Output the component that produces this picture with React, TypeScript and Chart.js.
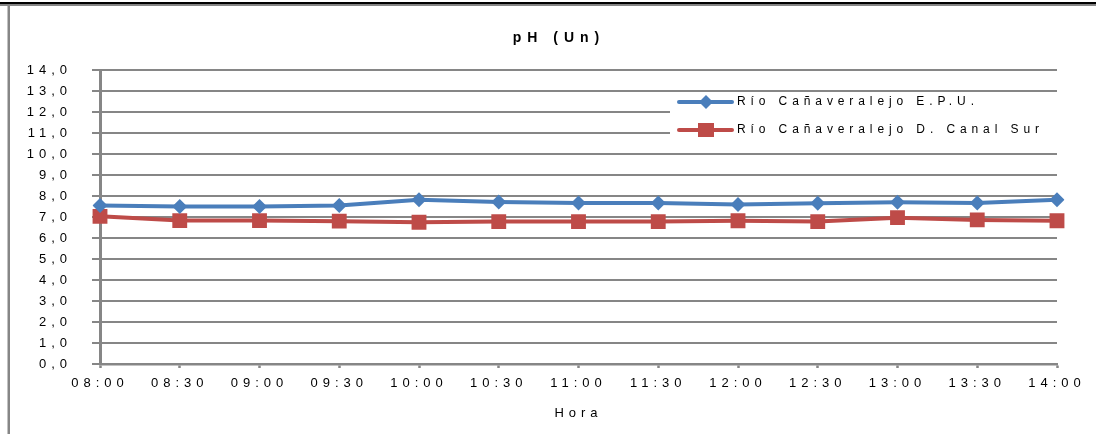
import { useEffect, useRef } from "react";
import { Chart, registerables } from "chart.js";

Chart.register(...registerables);

// Sampling times (x axis)
const hours = [
  "08:00", "08:30", "09:00", "09:30", "10:00", "10:30", "11:00",
  "11:30", "12:00", "12:30", "13:00", "13:30", "14:00",
];

// pH readings per station
const epuValues = [7.55, 7.5, 7.5, 7.55, 7.82, 7.72, 7.67, 7.67, 7.6, 7.65, 7.7, 7.67, 7.82];
const canalSurValues = [7.03, 6.83, 6.83, 6.8, 6.75, 6.78, 6.78, 6.78, 6.82, 6.78, 6.97, 6.86, 6.82];

const seriesNames = ["Río Cañaveralejo E.P.U.", "Río Cañaveralejo D. Canal Sur"];
const chartTitle = "pH (Un)";
const xAxisTitle = "Hora";

const FONT = '"Liberation Sans", Arial, sans-serif';
const BLUE = "#4a7ebb";
const RED = "#be4b48";
const GRID = "#868686";

type Ctx = CanvasRenderingContext2D & { letterSpacing?: string };

// Outer frame, title, and the in-plot legend box
const decorations = {
  id: "decorations",
  beforeDraw(chart: Chart) {
    const ctx = chart.ctx as Ctx;
    ctx.save();
    ctx.fillStyle = "#000";
    ctx.fillRect(0, 2, chart.width, 2.5);
    ctx.fillStyle = GRID;
    ctx.fillRect(0, 4.5, chart.width, 1.5);
    ctx.fillRect(7.5, 6, 2.5, chart.height - 6);

    ctx.letterSpacing = "6px";
    ctx.font = `bold 14px ${FONT}`;
    ctx.fillStyle = "#000";
    ctx.textAlign = "left";
    ctx.textBaseline = "middle";
    const w = ctx.measureText(chartTitle).width - 6;
    ctx.fillText(chartTitle, 556 - w / 2, 38);
    ctx.restore();
    (chart.ctx as Ctx).letterSpacing = "5px";
  },
  beforeDatasetsDraw(chart: Chart) {
    const ctx = chart.ctx as Ctx;
    const { right } = chart.chartArea;
    const boxLeft = 670;
    ctx.save();
    ctx.fillStyle = "#fff";
    ctx.fillRect(boxLeft, 93, right - boxLeft + 2, 59);

    const entries = [
      { label: seriesNames[0], color: BLUE, y: 102, shape: "diamond" },
      { label: seriesNames[1], color: RED, y: 130, shape: "square" },
    ];
    for (const e of entries) {
      ctx.strokeStyle = e.color;
      ctx.lineWidth = 4;
      ctx.lineCap = "round";
      ctx.beginPath();
      ctx.moveTo(679, e.y);
      ctx.lineTo(732, e.y);
      ctx.stroke();
      ctx.fillStyle = e.color;
      ctx.beginPath();
      if (e.shape === "diamond") {
        ctx.moveTo(706, e.y - 7);
        ctx.lineTo(713, e.y);
        ctx.lineTo(706, e.y + 7);
        ctx.lineTo(699, e.y);
        ctx.closePath();
      } else {
        ctx.rect(698, e.y - 7, 16, 14);
      }
      ctx.fill();
      ctx.letterSpacing = "4.9px";
      ctx.font = `12px ${FONT}`;
      ctx.fillStyle = "#000";
      ctx.textAlign = "left";
      ctx.textBaseline = "middle";
      ctx.fillText(e.label, 737, e.y);
    }
    ctx.restore();
  },
};

export default function App() {
  const canvasRef = useRef<HTMLCanvasElement | null>(null);

  useEffect(() => {
    document.body.style.margin = "0";
    const canvas = canvasRef.current;
    if (!canvas) return;
    const chart = new Chart(canvas, {
      type: "line",
      data: {
        labels: hours,
        datasets: [
          {
            label: seriesNames[0],
            data: epuValues,
            borderColor: BLUE,
            backgroundColor: BLUE,
            borderWidth: 4,
            pointStyle: "rectRot",
            pointRadius: 7.5,
            pointBorderWidth: 0,
            tension: 0,
          },
          {
            label: seriesNames[1],
            data: canalSurValues,
            borderColor: RED,
            backgroundColor: RED,
            borderWidth: 4,
            pointStyle: "rect",
            pointRadius: 10.5,
            pointBorderWidth: 0,
            tension: 0,
          },
        ],
      },
      options: {
        responsive: false,
        animation: false,
        layout: { padding: { left: 0, top: 70, right: 39, bottom: 0 } },
        plugins: {
          legend: { display: false },
          title: { display: false },
          tooltip: { enabled: false },
        },
        scales: {
          x: {
            offset: false,
            grid: {
              drawOnChartArea: false,
              drawTicks: true,
              tickLength: 4,
              tickWidth: 2.5,
              tickColor: GRID,
            },
            border: { color: GRID, width: 2.5 },
            ticks: {
              autoSkip: false,
              maxRotation: 0,
              padding: 8,
              color: "#000",
              font: { family: FONT, size: 13 },
            },
            title: {
              display: true,
              text: xAxisTitle,
              color: "#000",
              font: { family: FONT, size: 13 },
              padding: { top: 0, bottom: 13 },
            },
            afterFit: (scale: any) => {
              scale.height = 70;
            },
          },
          y: {
            min: 0,
            max: 14,
            grid: {
              color: GRID,
              lineWidth: 2,
              tickLength: 8,
              tickColor: GRID,
            },
            border: { color: GRID, width: 3 },
            ticks: {
              stepSize: 1,
              padding: 20,
              color: "#000",
              font: { family: FONT, size: 13 },
              callback: (v: any) => Number(v).toFixed(1).replace(".", ","),
            },
            afterFit: (scale: any) => {
              scale.width = 100;
            },
          },
        },
      },
      plugins: [decorations],
    });
    return () => chart.destroy();
  }, []);

  return (
    <div style={{ width: 1096, height: 434 }}>
      <canvas ref={canvasRef} width={1096} height={434} />
    </div>
  );
}
